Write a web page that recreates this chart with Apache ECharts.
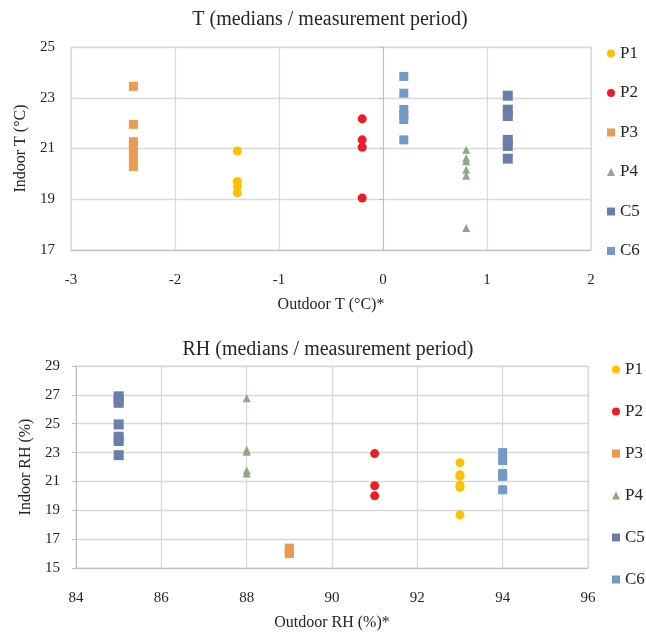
<!DOCTYPE html>
<html>
<head>
<meta charset="utf-8">
<script src="https://cdn.jsdelivr.net/npm/echarts@6/dist/echarts.min.js"></script>
<style>
  html, body { margin: 0; padding: 0; background: #fff; }
  #main { width: 646px; height: 632px; }
</style>
</head>
<body>
<div id="main"></div>
<script>
// series names, shared by both panels
const names = ['P1', 'P2', 'P3', 'P4', 'C5', 'C6'];

// top panel: outdoor T per series, indoor T medians
const tOutdoor = [-1.4, -0.2, -2.4, 0.8, 1.2, 0.2];
const tIndoorP1 = [20.9, 19.7, 19.5, 19.25];
const tIndoorP2 = [22.17, 21.34, 21.05, 19.05];
const tIndoorP3 = [23.45, 21.95, 21.27, 21.1, 20.94, 20.62, 20.29];
const tIndoorP4 = [20.95, 20.62, 20.5, 20.16, 19.93, 17.87];
const tIndoorC5 = [23.08, 22.53, 22.28, 21.34, 21.1, 20.6];
const tIndoorC6 = [23.84, 23.18, 22.54, 22.34, 22.14, 21.34];

// bottom panel: outdoor RH per series, indoor RH medians
const rhOutdoor = [93, 91, 89, 88, 85, 94];
const rhIndoorP1 = [22.3, 21.47, 21.35, 20.72, 20.6, 18.68];
const rhIndoorP2 = [22.93, 20.7, 20.0];
const rhIndoorP3 = [16.38, 16.22, 16.08, 16.0];
const rhIndoorP4 = [26.77, 23.2, 23.05, 21.75, 21.55];
const rhIndoorC5 = [26.9, 26.65, 26.45, 24.95, 24.1, 23.8, 22.82];
const rhIndoorC6 = [23.0, 22.45, 21.55, 21.35, 20.42];

const tIndoor = [tIndoorP1, tIndoorP2, tIndoorP3, tIndoorP4, tIndoorC5, tIndoorC6];
const rhIndoor = [rhIndoorP1, rhIndoorP2, rhIndoorP3, rhIndoorP4, rhIndoorC5, rhIndoorC6];

const colors = ['#FFC000', '#EE1D25', '#EB9B50', '#8FA882', '#6A7EAA', '#7399C8'];
const symbols = ['circle', 'circle', 'rect', 'triangle', 'rect', 'rect'];
const sizes = [9, 9, 9, 8, 10, 9];

const serif = '"Liberation Serif", "Times New Roman", serif';

function axisX(idx, min, max, step, name, gap) {
  return {
    type: 'value', gridIndex: idx, min: min, max: max, interval: step,
    name: name, nameLocation: 'middle', nameGap: gap,
    nameTextStyle: { fontFamily: serif, fontSize: 16, color: '#262626' },
    axisLine: { show: true, lineStyle: { color: '#BFBFBF' } },
    axisTick: { show: false },
    axisLabel: { fontFamily: serif, fontSize: 15, color: '#262626', margin: 23 },
    splitLine: { lineStyle: { color: '#D9D9D9', width: 1.3 } }
  };
}

function axisY(idx, min, max, step, name, gap) {
  return {
    type: 'value', gridIndex: idx, min: min, max: max, interval: step,
    name: name, nameLocation: 'middle', nameGap: gap,
    nameTextStyle: { fontFamily: serif, fontSize: 16, color: '#262626' },
    axisLine: { show: true, lineStyle: { color: '#BFBFBF' } },
    axisTick: { show: true, length: 4, lineStyle: { color: '#BFBFBF' } },
    axisLabel: { fontFamily: serif, fontSize: 15, color: '#262626', margin: 16 },
    splitLine: { lineStyle: { color: '#D9D9D9', width: 1.3 } }
  };
}

const series = [];
names.forEach(function (n, i) {
  series.push({
    name: n, type: 'scatter', xAxisIndex: 0, yAxisIndex: 0,
    symbol: symbols[i], symbolSize: sizes[i],
    itemStyle: { color: colors[i], opacity: 1 },
    data: tIndoor[i].map(function (v) { return [tOutdoor[i], v]; })
  });
  series.push({
    name: n, type: 'scatter', xAxisIndex: 1, yAxisIndex: 1,
    symbol: symbols[i], symbolSize: sizes[i],
    itemStyle: { color: colors[i], opacity: 1 },
    data: rhIndoor[i].map(function (v) { return [rhOutdoor[i], v]; })
  });
});

const legendText = { fontFamily: serif, fontSize: 17, color: '#262626' };

const chart = echarts.init(document.getElementById('main'));
chart.setOption({
  animation: false,
  textStyle: { fontFamily: serif },
  title: [
    { text: 'T (medians / measurement period)', left: 325, top: 5, textAlign: 'center',
      textStyle: { fontFamily: serif, fontSize: 20, fontWeight: 'normal', color: '#262626' } },
    { text: 'RH (medians / measurement period)', left: 323, top: 335, textAlign: 'center',
      textStyle: { fontFamily: serif, fontSize: 20, fontWeight: 'normal', color: '#262626' } }
  ],
  legend: [
    { orient: 'vertical', left: 602, top: 40, itemWidth: 8, itemHeight: 8, itemGap: 22.5,
      data: names, textStyle: legendText, selectedMode: false },
    { orient: 'vertical', left: 607, top: 356, itemWidth: 8, itemHeight: 8, itemGap: 25,
      data: names, textStyle: legendText, selectedMode: false }
  ],
  grid: [
    { left: 71, top: 47, width: 520, height: 203, show: true, borderColor: '#D9D9D9', borderWidth: 1 },
    { left: 76, top: 366, width: 512, height: 204, show: true, borderColor: '#D9D9D9', borderWidth: 1 }
  ],
  xAxis: [
    axisX(0, -3, 2, 1, 'Outdoor T (°C)*', 47),
    axisX(1, 84, 96, 2, 'Outdoor RH (%)*', 47)
  ],
  yAxis: [
    axisY(0, 17, 25, 2, 'Indoor T (°C)', 37),
    axisY(1, 15, 29, 2, 'Indoor RH (%)', 42)
  ],
  series: series
});
</script>
</body>
</html>
